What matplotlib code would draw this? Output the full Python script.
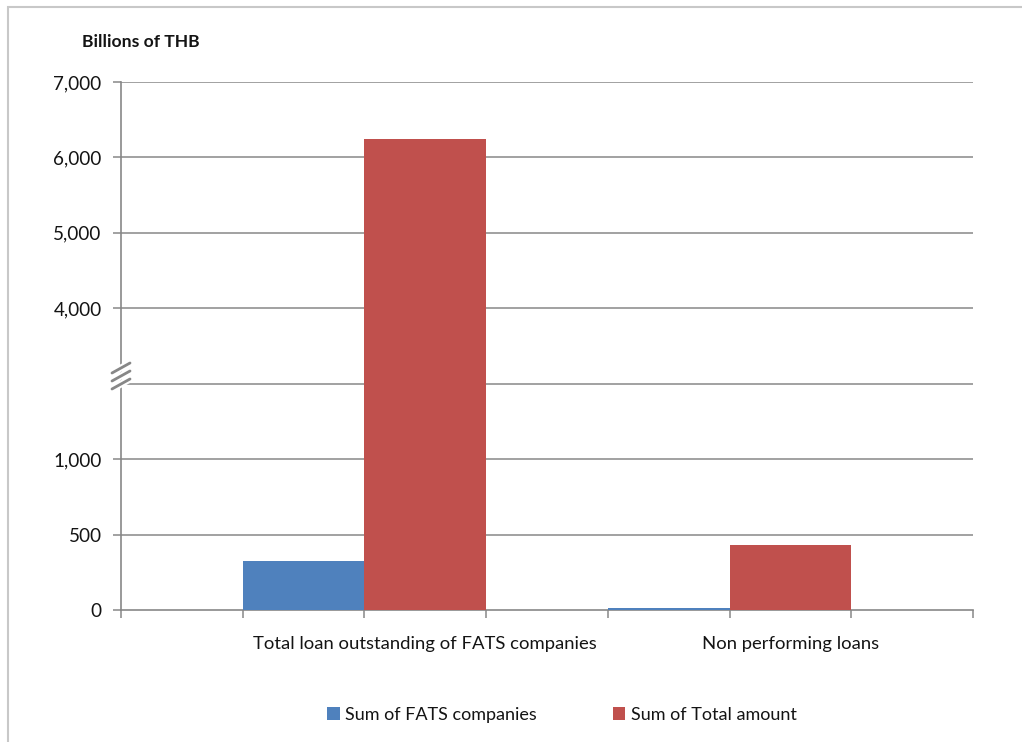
import numpy as np
import matplotlib
matplotlib.use("Agg")
import matplotlib.pyplot as plt
from matplotlib.patches import Rectangle, Patch
from matplotlib.lines import Line2D
from matplotlib.ticker import FixedLocator, FuncFormatter

# ---- data (billions of THB) ----
categories = ["Total loan outstanding of FATS companies", "Non performing loans"]
series_names = ["Sum of FATS companies", "Sum of Total amount"]
fats_companies = [325, 11]
total_amount = [6250, 432]
y_ticks = [0, 500, 1000, 4000, 5000, 6000, 7000]

colors = ["#4F81BD", "#C0504D"]
grid_color = "#878787"
text_color = "#141414"

# broken value axis: 0-1500 on the lower part, 3000-7000 on the upper part
BREAK_LOW, BREAK_HIGH = 1500, 3000
data_pts = np.array([0.0, BREAK_LOW, BREAK_HIGH, 7000.0])
axis_pts = np.array([0.0, 3.0, 3.0 + 1e-9, 7.0])


def forward(y):
    y = np.asarray(y, dtype=float)
    out = np.interp(y, data_pts, axis_pts)
    out = np.where(y < 0, y / 500.0, out)
    out = np.where(y > 7000, 7.0 + (y - 7000) / 1000.0, out)
    return out


def inverse(v):
    v = np.asarray(v, dtype=float)
    out = np.interp(v, axis_pts, data_pts)
    out = np.where(v < 0, v * 500.0, out)
    out = np.where(v > 7, 7000 + (v - 7.0) * 1000.0, out)
    return out


plt.rcParams["font.family"] = ["Lato", "DejaVu Sans"]

W, H = 1022, 742
fig = plt.figure(figsize=(W / 100, H / 100), dpi=100)

# outer chart frame
fig.add_artist(Rectangle((8 / W, -0.1), 1.2, 1 - 7 / H + 0.1, transform=fig.transFigure,
                         fill=False, edgecolor="#c8c8c8", linewidth=1.5))

ax = fig.add_axes([121 / W, (H - 610) / H, (973 - 121) / W, (610 - 82) / H])
ax.set_yscale("function", functions=(forward, inverse))
ax.set_ylim(0, 7000)
ax.set_xlim(0, 7)

# bars: each category occupies two adjacent unit-wide slots
x0 = 1 + 3 * np.arange(len(categories))
ax.bar(x0, fats_companies, width=1.0, align="edge", color=colors[0], zorder=3)
ax.bar(x0 + 1, total_amount, width=1.0, align="edge", color=colors[1], zorder=3)

# gridlines
for t in y_ticks[1:]:
    ax.axhline(t, color=grid_color, linewidth=1.1, zorder=1)
ax.axhline(BREAK_LOW, color=grid_color, linewidth=1.1, zorder=1)

# y axis
ax.yaxis.set_major_locator(FixedLocator(y_ticks))
ax.yaxis.set_major_formatter(FuncFormatter(lambda v, p: f"{int(round(v)):,}"))
ax.yaxis.set_minor_locator(FixedLocator([]))
ax.tick_params(axis="y", which="major", length=6, width=1.1, color=grid_color,
               labelsize=13.6, labelcolor=text_color, pad=8)

# x axis: unit tick marks, category labels under each group
ax.xaxis.set_minor_locator(FixedLocator(np.arange(0, 8)))
ax.set_xticks(x0 + 1.5)
ax.set_xticklabels(categories)
ax.tick_params(axis="x", which="major", length=0, pad=19, labelsize=13.3, labelcolor=text_color)
ax.tick_params(axis="x", which="minor", length=6, width=1.1, color=grid_color)

for side in ("top", "right"):
    ax.spines[side].set_visible(False)
for side in ("left", "bottom"):
    ax.spines[side].set_color(grid_color)
    ax.spines[side].set_linewidth(1.2)

# axis break marks
bx = 121
for color, lw, z in (("white", 5, 5), (grid_color, 2.0, 6)):
    for dy in (-15, -7, 1):
        yb = 383 + dy
        fig.add_artist(Line2D([(bx - 9) / W, (bx + 9) / W],
                              [(H - (yb + 5)) / H, (H - (yb - 5)) / H],
                              transform=fig.transFigure, color=color, linewidth=lw,
                              solid_capstyle="round", zorder=z))

# unit label
fig.text(82 / W, 1 - 42 / H, "Billions of THB", fontsize=12.6, fontweight="bold",
         color=text_color, ha="left", va="center")

# legend
handles = [Patch(facecolor=c, edgecolor="none") for c in colors]
fig.legend(handles, series_names, loc="center", bbox_to_anchor=(562 / W, 1 - 715 / H),
           ncol=2, frameon=False, fontsize=13, handlelength=0.7, handleheight=0.7,
           handletextpad=0.3, columnspacing=4.2, labelcolor=text_color)

fig.savefig("out.png", dpi=100)
